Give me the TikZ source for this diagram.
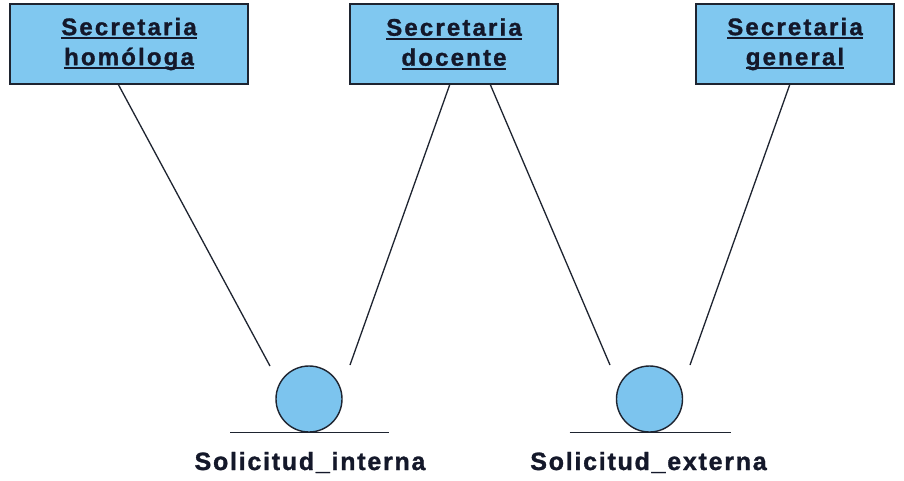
\documentclass[tikz,border=0pt]{standalone}
\usepackage{fontspec}
\setmainfont{Liberation Sans}
\newfontfamily\boxfont[LetterSpace=9,FakeBold=1.2]{Liberation Sans Bold}
\newfontfamily\objfont[LetterSpace=7,FakeBold=1.2]{Liberation Sans Bold}
\usetikzlibrary{calc}
\definecolor{entityfill}{HTML}{80C8F0}
\definecolor{objfill}{HTML}{7CC4EE}
\definecolor{edge}{HTML}{1E2430}
\definecolor{ink}{HTML}{14182A}
% underline at a fixed depth below the baseline, ignoring descenders
\newcommand\ulword[1]{\setbox0\hbox{#1}\rlap{\rule[-4pt]{\wd0}{1.8pt}}\box0}
\begin{document}
\begin{tikzpicture}[x=1pt,y=-1pt,
  entity/.style={draw=edge,line width=1.8pt,fill=entityfill,rectangle,
    minimum height=80pt,inner sep=0pt,align=center,text=ink,
    font=\boxfont\fontsize{24}{30}\selectfont},
  object/.style={draw=edge,line width=1.4pt,fill=objfill,circle,
    minimum size=66pt,inner sep=0pt},
  objlabel/.style={anchor=base,text=ink,inner sep=0pt,
    font=\objfont\fontsize{25}{28}\selectfont},
  link/.style={draw=edge,line width=1.3pt},
  ground/.style={draw=edge,line width=1.4pt}]
\useasboundingbox (0,0) rectangle (904,480);
\fill[white] (0,0) rectangle (904,480);

% entities
\node[entity,minimum width=238pt] (b1) at (129,44) {\ulword{Secretaria}\\\ulword{homóloga}};
\node[entity,minimum width=208pt] (b2) at (454,44) {\ulword{Secretaria}\\\ulword{docente}};
\node[entity,minimum width=198pt] (b3) at (795,44) {\ulword{Secretaria}\\\ulword{general}};

% objects
\node[object] (c1) at (309,399) {};
\node[object] (c2) at (649.5,399) {};
\draw[ground] ($(c1.south)+(-79,0)$) -- ($(c1.south)+(80,0)$);
\draw[ground] ($(c2.south)+(-80,0)$) -- ($(c2.south)+(81,0)$);
\node[objlabel] (l1) at (310,470) {Solicitud\_interna};
\node[objlabel] (l2) at (648.5,470) {Solicitud\_externa};

% link ends next to the objects
\coordinate (e1) at ($(c1.center)+(-39,-33)$);
\coordinate (e2) at ($(c1.center)+(41,-34)$);
\coordinate (e3) at ($(c2.center)+(-39.5,-34)$);
\coordinate (e4) at ($(c2.center)+(40.5,-34)$);

% links
\draw[link] ([xshift=-11pt,yshift=1pt]b1.south) -- (e1);
\draw[link] ([xshift=-4pt,yshift=1pt]b2.south) -- (e2);
\draw[link] ([xshift=36pt,yshift=1pt]b2.south) -- (e3);
\draw[link] ([xshift=-5pt,yshift=1pt]b3.south) -- (e4);
\end{tikzpicture}
\end{document}
